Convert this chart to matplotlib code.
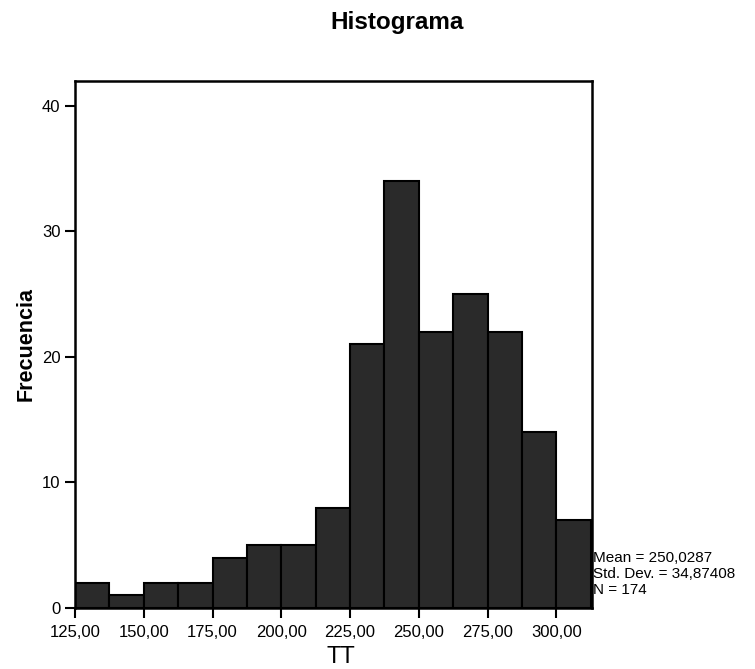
import matplotlib
matplotlib.use('Agg')
import matplotlib.pyplot as plt
import numpy as np

plt.rcParams['font.family'] = ['Liberation Sans', 'DejaVu Sans']

bin_left = [125.0, 137.5, 150.0, 162.5, 175.0, 187.5, 200.0, 212.5,
            225.0, 237.5, 250.0, 262.5, 275.0, 287.5, 300.0]
bin_width = 12.5
counts = [2, 1, 2, 2, 4, 5, 5, 8, 21, 34, 22, 25, 22, 14, 7]
xticks = [125, 150, 175, 200, 225, 250, 275, 300]
yticks = [0, 10, 20, 30, 40]
stats = ['Mean = 250,0287', 'Std. Dev. = 34,87408', 'N = 174']

fig = plt.figure(figsize=(7.55, 6.69), dpi=100)
ax = fig.add_axes([0.0993, 0.0912, 0.6847, 0.788])

ax.bar(bin_left, counts, width=bin_width, align='edge',
       color='#2a2a2a', edgecolor='black', linewidth=1.5)

ax.set_xlim(125, 312.9)
ax.set_ylim(0, 42)
ax.set_xticks(xticks)
ax.set_xticklabels([('%.2f' % v).replace('.', ',') for v in xticks])
ax.set_yticks(yticks)
ax.tick_params(axis='both', direction='out', length=7, width=1.5,
               labelsize=12)
ax.tick_params(axis='x', pad=5)
for s in ax.spines.values():
    s.set_linewidth(1.8)

ax.set_ylabel('Frecuencia', fontsize=15.5, fontweight='bold', labelpad=4)
# x label sits low, right under the tick labels
fig.text(0.452, 0.009, 'TT', fontsize=17, ha='center', va='baseline')
fig.text(0.526, 0.967, 'Histograma', fontsize=17.5, fontweight='bold',
         ha='center', va='center')

ypos = [0.0949, 0.0645, 0.0342]
for i, line in enumerate(stats):
    ax.text(1.003, ypos[i], line, transform=ax.transAxes,
            fontsize=11, ha='left', va='center')

fig.savefig('out.png', dpi=100)
